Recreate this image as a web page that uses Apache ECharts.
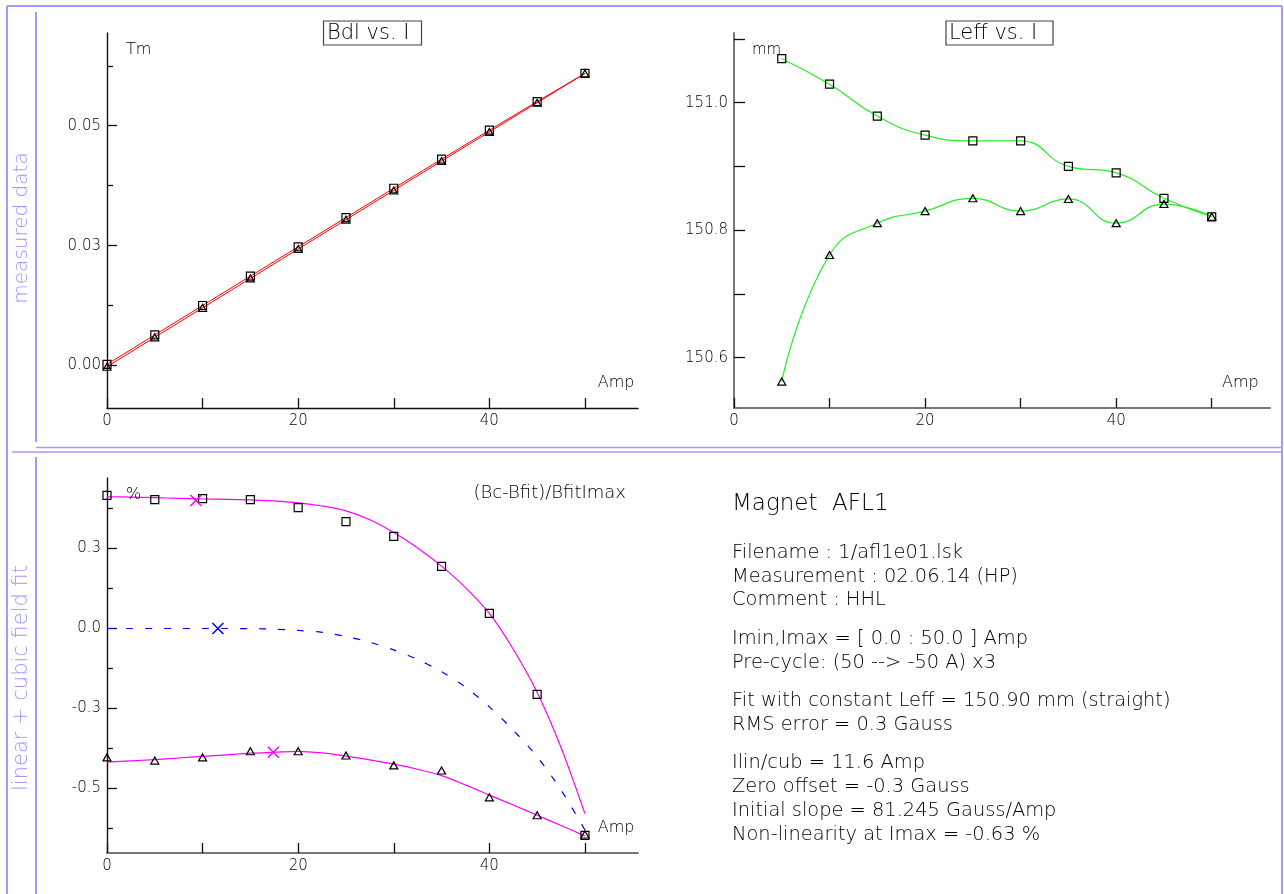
<!DOCTYPE html>
<html><head><meta charset="utf-8">
<script src="https://cdn.jsdelivr.net/npm/echarts@6/dist/echarts.min.js"></script>
<style>html,body{margin:0;padding:0;background:#fff}#c{width:1284px;height:894px}</style>
</head><body><div id="c"></div>
<script>
// ---------------- data ----------------
const currentA = [0, 5, 10, 15, 20, 25, 30, 35, 40, 45, 50];
const bdlSquares   = [0.00025, 0.00638, 0.01251, 0.01864, 0.02475, 0.03085, 0.03696, 0.04303, 0.04907, 0.05505, 0.06091];
const bdlTriangles = [-0.00025, 0.00588, 0.01202, 0.01816, 0.02429, 0.03041, 0.03652, 0.04264, 0.04872, 0.05481, 0.06091];

const leffCurrent   = [5, 10, 15, 20, 25, 30, 35, 40, 45, 50];
const leffSquares   = [151.069, 151.029, 150.979, 150.949, 150.940, 150.940, 150.900, 150.890, 150.850, 150.821];
const leffTriangles = [150.5625, 150.761, 150.811, 150.830, 150.850, 150.830, 150.849, 150.811, 150.841, 150.821];

const resSquares   = [0.416, 0.403, 0.406, 0.403, 0.378, 0.334, 0.288, 0.194, 0.047, -0.206, -0.647];
const resTriangles = [-0.403, -0.413, -0.403, -0.384, -0.384, -0.397, -0.428, -0.444, -0.528, -0.584, -0.644];

const fitCurrent = [0, 2.5, 5, 7.5, 10, 12.5, 15, 17.5, 20, 22.5, 25, 27.5, 30, 32.5, 35, 37.5, 40, 42.5, 45, 47.5, 50];
const fitUpper = [0.412, 0.411, 0.409, 0.407, 0.405, 0.404, 0.402, 0.399, 0.393, 0.383, 0.368, 0.340, 0.300, 0.252, 0.195, 0.128, 0.047, -0.065, -0.200, -0.372, -0.579];
const fitLower = [-0.418, -0.414, -0.410, -0.405, -0.400, -0.395, -0.390, -0.387, -0.384, -0.389, -0.399, -0.411, -0.424, -0.440, -0.460, -0.489, -0.521, -0.552, -0.584, -0.616, -0.649];
const fitCubic = [0, 0, 0, 0, 0, 0, -0.0004, -0.002, -0.006, -0.012, -0.025, -0.043, -0.067, -0.097, -0.135, -0.183, -0.245, -0.318, -0.401, -0.505, -0.630];

const crossUpper = [[9.3, 0.400]];
const crossLower = [[17.4, -0.387]];
const crossCubic = [[11.6, 0.0]];

const xTickValues = [0, 10, 20, 30, 40, 50];
const xLabelValues = [0, 20, 40];
const xTickLabels = ['0', '20', '40'];

const bdlMajorTicks = [0, 0.025, 0.05];
const bdlTickLabels = ['0.00', '0.03', '0.05'];
const bdlMinorTicks = [0.0125, 0.0375, 0.0625];

const leffTicks = [150.6, 150.7, 150.8, 150.9, 151.0, 151.1];
const leffLabelValues = [150.6, 150.8, 151.0];
const leffTickLabels = ['150.6', '150.8', '151.0'];

const resMajorTicks = [-0.5, -0.25, 0, 0.25];
const resTickLabels = ['-0.5', '-0.3', '0.0', '0.3'];
const resMinorTicks = [-0.625, -0.375, -0.125, 0.125, 0.375];

const infoTitle = 'Magnet  AFL1';
const infoLines = [
  'Filename : 1/afl1e01.lsk',
  'Measurement : 02.06.14 (HP)',
  'Comment : HHL',
  'Imin,Imax = [ 0.0 : 50.0 ] Amp',
  'Pre-cycle: (50 --> -50 A) x3',
  'Fit with constant Leff = 150.90 mm (straight)',
  'RMS error = 0.3 Gauss',
  'Ilin/cub = 11.6 Amp',
  'Zero offset = -0.3 Gauss',
  'Initial slope = 81.245 Gauss/Amp',
  'Non-linearity at Imax = -0.63 %'
];

// ---------------- helpers ----------------
const FF = 'DejaVu Sans';
const FW = 300;
const zip = (xs, ys) => xs.map((x, i) => [x, ys[i]]);
const labelMap = (vals, labels) => (v) => {
  const i = vals.findIndex(t => Math.abs(t - v) < 1e-9);
  return i >= 0 ? labels[i] : '';
};

function xAxisCfg(gridIndex, max, color, w) {
  return {
    type: 'value', gridIndex, min: 0, max,
    axisLine: { show: true, onZero: false, lineStyle: { color, width: w } },
    splitLine: { show: false },
    axisTick: { show: true, inside: true, length: 10, customValues: xTickValues, lineStyle: { color: '#111', width: 1.3 } },
    axisLabel: { show: true, customValues: xLabelValues, formatter: labelMap(xLabelValues, xTickLabels),
      margin: 6, color: '#000', fontFamily: FF, fontWeight: FW, fontSize: 15 }
  };
}
function yAxisCfg(gridIndex, min, max, ticks, labelVals, labels, color, w, tickLen) {
  return {
    type: 'value', gridIndex, min, max, position: 'left',
    axisLine: { show: true, onZero: false, lineStyle: { color, width: w } },
    splitLine: { show: false },
    axisTick: { show: true, inside: true, length: tickLen, customValues: ticks, lineStyle: { color: '#111', width: 1.3 } },
    axisLabel: { show: true, customValues: labelVals, formatter: labelMap(labelVals, labels),
      margin: 6, color: '#000', fontFamily: FF, fontWeight: FW, fontSize: 15 }
  };
}
function yMinorCfg(gridIndex, min, max, ticks) {
  return {
    type: 'value', gridIndex, min, max, position: 'left',
    axisLine: { show: false }, splitLine: { show: false },
    axisTick: { show: true, inside: true, length: 6, customValues: ticks, lineStyle: { color: '#111', width: 1.3 } },
    axisLabel: { show: false }
  };
}

const squareItem = { color: 'rgba(0,0,0,0)', borderColor: '#000', borderWidth: 1.2, opacity: 1 };
const triItem = { color: 'rgba(0,0,0,0)', borderColor: '#000', borderWidth: 1.2, opacity: 1 };
const crossPath = 'path://M0,0L10,10M10,0L0,10';

// ---------------- layout graphics ----------------
const FRAME = '#9d9dff';
const infoBase = [552.8, 576.8, 600.2, 638.5, 662.5, 700.8, 725.2, 762.8, 786.8, 811.2, 834.5];

function txt(text, x, y, size, opts = {}) {
  return {
    type: 'text', x, y, rotation: opts.rotation || 0, z: 100, silent: true,
    style: {
      text, font: `${opts.weight || FW} ${size}px "${FF}"`, fill: opts.fill || '#000',
      align: opts.align || 'left', verticalAlign: 'middle',
      textAlign: opts.align || 'left', textVerticalAlign: 'middle'
    }
  };
}
function line(x1, y1, x2, y2, w, color) {
  return { type: 'line', silent: true, z: 90, shape: { x1, y1, x2, y2 }, style: { stroke: color || FRAME, lineWidth: w } };
}

const graphics = [
  line(7, 6, 1282, 6, 2), line(7, 6, 7, 894, 2), line(1282, 6, 1282, 894, 2),
  line(36, 12, 36, 442, 2), line(36, 447.5, 1282, 447.5, 1.5), line(12, 452, 1282, 452, 1.5),
  line(36, 457, 36, 894, 2),
  txt('measured data', 22, 228, 20, { rotation: Math.PI / 2, fill: '#9a9aff', align: 'center' }),
  txt('linear + cubic field fit', 22, 678, 21, { rotation: Math.PI / 2, fill: '#9a9aff', align: 'center' }),
  { type: 'rect', silent: true, z: 90, shape: { x: 323.5, y: 21, width: 98, height: 24 }, style: { fill: 'none', stroke: '#444', lineWidth: 1.2 } },
  txt('Bdl vs. I', 327, 33.4, 21),
  { type: 'rect', silent: true, z: 90, shape: { x: 946, y: 21, width: 107, height: 24 }, style: { fill: 'none', stroke: '#444', lineWidth: 1.2 } },
  txt('Leff vs. I', 949, 33.4, 21),
  txt('Tm', 126, 49.5, 16),
  txt('Amp', 597.7, 382.8, 16),
  txt('mm', 752, 49.8, 15),
  txt('Amp', 1222, 382.8, 16),
  txt('%', 126, 494.5, 16),
  txt('(Bc-Bfit)/BfitImax', 626, 493.1, 18, { align: 'right' }),
  txt('Amp', 597.7, 827.8, 16),
  txt(infoTitle, 732, 503.7, 23)
].concat(infoLines.map((s, i) => txt(s, 732, infoBase[i], 19.4)));

// ---------------- chart ----------------
const chart = echarts.init(document.getElementById('c'), null, { renderer: 'canvas' });
chart.setOption({
  animation: false,
  backgroundColor: '#fff',
  grid: [
    { left: 107, top: 33, width: 531, height: 375 },
    { left: 734, top: 33, width: 536, height: 375 },
    { left: 107, top: 478, width: 531, height: 375 }
  ],
  xAxis: [
    xAxisCfg(0, 55.55, '#111', 1.4),
    xAxisCfg(1, 56.1, '#777', 2),
    xAxisCfg(2, 55.55, '#777', 2)
  ],
  yAxis: [
    yAxisCfg(0, -0.00886, 0.06934, bdlMajorTicks, bdlMajorTicks, bdlTickLabels, '#111', 1.4, 10),
    yMinorCfg(0, -0.00886, 0.06934, bdlMinorTicks),
    yAxisCfg(1, 150.5211, 151.1093, leffTicks, leffLabelValues, leffTickLabels, '#777', 2, 11),
    yAxisCfg(2, -0.702, 0.4706, resMajorTicks, resMajorTicks, resTickLabels, '#111', 1.4, 10),
    yMinorCfg(2, -0.702, 0.4706, resMinorTicks)
  ],
  series: [
    { type: 'line', xAxisIndex: 0, yAxisIndex: 0, data: zip(currentA, bdlSquares), clip: false,
      symbol: 'rect', symbolSize: 8, showAllSymbol: true, lineStyle: { color: '#ff0000', width: 1 }, itemStyle: squareItem, z: 3 },
    { type: 'line', xAxisIndex: 0, yAxisIndex: 0, data: zip(currentA, bdlTriangles), clip: false,
      symbol: 'triangle', symbolSize: [8, 7], showAllSymbol: true, lineStyle: { color: '#ff0000', width: 1 }, itemStyle: triItem, z: 3 },

    { type: 'line', xAxisIndex: 1, yAxisIndex: 2, data: zip(leffCurrent, leffSquares), smooth: 0.5, clip: false,
      symbol: 'rect', symbolSize: 8, showAllSymbol: true, lineStyle: { color: '#22ee22', width: 1.2 }, itemStyle: squareItem, z: 3 },
    { type: 'line', xAxisIndex: 1, yAxisIndex: 2, data: zip(leffCurrent, leffTriangles), smooth: 0.5, clip: false,
      symbol: 'triangle', symbolSize: [8, 7], showAllSymbol: true, lineStyle: { color: '#22ee22', width: 1.2 }, itemStyle: triItem, z: 3 },

    { type: 'line', xAxisIndex: 2, yAxisIndex: 3, data: zip(fitCurrent, fitUpper), smooth: 0.3, showSymbol: false,
      lineStyle: { color: '#ff00ff', width: 1.2 }, z: 2 },
    { type: 'line', xAxisIndex: 2, yAxisIndex: 3, data: zip(fitCurrent, fitLower), smooth: 0.3, showSymbol: false,
      lineStyle: { color: '#ff00ff', width: 1.2 }, z: 2 },
    { type: 'line', xAxisIndex: 2, yAxisIndex: 3, data: zip(fitCurrent, fitCubic), smooth: 0.3, showSymbol: false,
      lineStyle: { color: '#0000ff', width: 1.2, type: [7, 12] }, z: 2 },
    { type: 'scatter', xAxisIndex: 2, yAxisIndex: 3, data: zip(currentA, resSquares), clip: false,
      symbol: 'rect', symbolSize: 8, itemStyle: squareItem, z: 4 },
    { type: 'scatter', xAxisIndex: 2, yAxisIndex: 3, data: zip(currentA, resTriangles), clip: false,
      symbol: 'triangle', symbolSize: [8, 7], itemStyle: triItem, z: 4 },
    { type: 'scatter', xAxisIndex: 2, yAxisIndex: 3, data: crossUpper, symbol: crossPath, symbolSize: 11,
      itemStyle: { color: 'none', borderColor: '#ff00ff', borderWidth: 1.5, opacity: 1 }, z: 5 },
    { type: 'scatter', xAxisIndex: 2, yAxisIndex: 3, data: crossLower, symbol: crossPath, symbolSize: 11,
      itemStyle: { color: 'none', borderColor: '#ff00ff', borderWidth: 1.5, opacity: 1 }, z: 5 },
    { type: 'scatter', xAxisIndex: 2, yAxisIndex: 3, data: crossCubic, symbol: crossPath, symbolSize: 11,
      itemStyle: { color: 'none', borderColor: '#0000ff', borderWidth: 1.5, opacity: 1 }, z: 5 }
  ],
  graphic: graphics
});
</script></body></html>
